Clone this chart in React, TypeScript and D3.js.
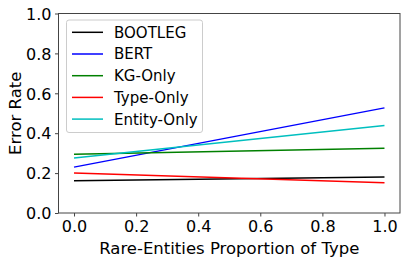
import React, { useEffect, useRef } from "react";
import * as d3 from "d3";

const xValues = [0, 1];
const seriesNames = ["BOOTLEG", "BERT", "KG-Only", "Type-Only", "Entity-Only"];
const bootleg = [0.162, 0.18];
const bert = [0.23, 0.527];
const kgOnly = [0.294, 0.324];
const typeOnly = [0.2, 0.152];
const entityOnly = [0.276, 0.438];
const colors = ["#000000", "#0000ff", "#008000", "#ff0000", "#00bfbf"];
const xTicks = [0, 0.2, 0.4, 0.6, 0.8, 1.0];
const yTicks = [0, 0.2, 0.4, 0.6, 0.8, 1.0];

const App = () => {
  const svgRef = useRef<SVGSVGElement>(null);

  useEffect(() => {
    const width = 407;
    const height = 263;
    const margin = { top: 13.5, right: 7, bottom: 50, left: 58.5 };
    const font = "DejaVu Sans, sans-serif";

    const svg = d3.select(svgRef.current);
    svg.selectAll("*").remove();
    svg.attr("width", width).attr("height", height);

    const x = d3
      .scaleLinear()
      .domain([-0.05, 1.05])
      .range([margin.left, width - margin.right]);
    const y = d3
      .scaleLinear()
      .domain([0, 1])
      .range([height - margin.bottom, margin.top]);

    const all = [bootleg, bert, kgOnly, typeOnly, entityOnly];

    const line = d3
      .line<number>()
      .x((_, i) => x(xValues[i]))
      .y((d) => y(d));

    all.forEach((vals, i) => {
      svg
        .append("path")
        .attr("d", line(vals))
        .attr("fill", "none")
        .attr("stroke", colors[i])
        .attr("stroke-width", 1.5);
    });

    // Frame
    svg
      .append("rect")
      .attr("x", margin.left)
      .attr("y", margin.top)
      .attr("width", width - margin.left - margin.right)
      .attr("height", height - margin.top - margin.bottom)
      .attr("fill", "none")
      .attr("stroke", "#444")
      .attr("stroke-width", 1);

    // X ticks
    const xAxis = svg
      .append("g")
      .attr("transform", `translate(0,${height - margin.bottom})`)
      .call(
        d3
          .axisBottom(x)
          .tickValues(xTicks)
          .tickSize(3.5)
          .tickPadding(4)
          .tickFormat(d3.format(".1f"))
      );
    xAxis.select(".domain").remove();
    xAxis.selectAll("line").attr("stroke", "#444");
    xAxis
      .selectAll("text")
      .attr("font-family", font)
      .attr("font-size", 16)
      .attr("fill", "#000")
      .attr("dy", "0.72em");

    // Y ticks
    const yAxis = svg
      .append("g")
      .attr("transform", `translate(${margin.left},0)`)
      .call(
        d3
          .axisLeft(y)
          .tickValues(yTicks)
          .tickSize(3.5)
          .tickPadding(3.5)
          .tickFormat(d3.format(".1f"))
      );
    yAxis.select(".domain").remove();
    yAxis.selectAll("line").attr("stroke", "#444");
    yAxis
      .selectAll("text")
      .attr("font-family", font)
      .attr("font-size", 16)
      .attr("fill", "#000")
      .attr("dy", "0.36em");

    // Axis labels
    svg
      .append("text")
      .attr("x", (margin.left + width - margin.right) / 2)
      .attr("y", 253.5)
      .attr("text-anchor", "middle")
      .attr("font-family", font)
      .attr("font-size", 16.5)
      .text("Rare-Entities Proportion of Type");

    svg
      .append("text")
      .attr("transform", `translate(20.5,${(margin.top + height - margin.bottom) / 2}) rotate(-90)`)
      .attr("text-anchor", "middle")
      .attr("font-family", font)
      .attr("font-size", 16.5)
      .text("Error Rate");

    // Legend
    const legend = svg.append("g");
    legend
      .append("rect")
      .attr("x", 66.5)
      .attr("y", 20)
      .attr("width", 136)
      .attr("height", 112.5)
      .attr("rx", 2.5)
      .attr("fill", "#fff")
      .attr("fill-opacity", 0.8)
      .attr("stroke", "#ccc")
      .attr("stroke-width", 1);

    seriesNames.forEach((name, i) => {
      const cy = 32.3 + i * 21.7;
      legend
        .append("line")
        .attr("x1", 72)
        .attr("x2", 103)
        .attr("y1", cy)
        .attr("y2", cy)
        .attr("stroke", colors[i])
        .attr("stroke-width", 1.5);
      legend
        .append("text")
        .attr("x", 114)
        .attr("y", cy + 5.4)
        .attr("font-family", font)
        .attr("font-size", 15)
        .text(name);
    });
  }, []);

  return <svg ref={svgRef} style={{ position: "absolute", left: 0, top: 0 }}></svg>;
};

export default App;
